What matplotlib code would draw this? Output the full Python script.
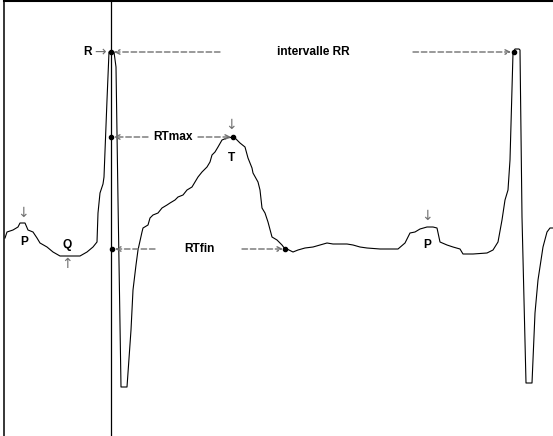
import numpy as np
import matplotlib.pyplot as plt

# ECG trace in pixel units (x right, y down)
ecg_x = [5, 7, 13, 18, 20, 25, 28, 33, 37, 40, 47, 53, 60, 80, 87, 93, 97, 98, 100, 103,
         104, 107, 109, 114, 116, 118, 121, 127, 131, 133, 136, 138, 142, 143, 148, 150,
         153, 158, 162, 167, 170, 175, 178, 183, 187, 192, 195, 198, 202, 207, 210, 212,
         215, 218, 222, 227, 233, 235, 240, 245, 248, 252, 253, 258, 260, 262, 265, 268,
         272, 277, 282, 285, 287, 293, 298, 305, 313, 320, 327, 333, 340, 347, 353, 360,
         367, 380, 398, 405, 410, 415, 420, 427, 433, 437, 440, 447, 453, 460, 463, 473,
         487, 493, 498, 502, 505, 508, 510, 513, 515, 519, 520, 522, 526, 532, 535, 538,
         543, 547, 550, 553]
ecg_y = [238, 232, 230, 227, 223, 223, 230, 232, 238, 243, 247, 252, 256, 256, 252, 247,
         242, 213, 193, 184, 177, 100, 52, 52, 67, 200, 387, 387, 330, 290, 265, 250, 232,
         228, 225, 218, 215, 213, 208, 205, 203, 200, 197, 195, 190, 187, 182, 177, 172,
         167, 162, 155, 152, 147, 140, 138, 137, 138, 143, 147, 158, 168, 173, 182, 190,
         208, 213, 222, 237, 240, 245, 249, 249, 252, 250, 248, 247, 245, 243, 244, 244,
         244, 245, 247, 248, 249, 249, 243, 233, 232, 229, 227, 227, 228, 242, 245, 247,
         249, 254, 254, 253, 250, 242, 220, 200, 190, 160, 53, 49, 49, 50, 217, 383, 383,
         313, 280, 247, 232, 228, 228]

# marked points: R1, R2, RTmax start/end, RTfin start/end
mark_x = [111, 514, 111, 233, 112, 285]
mark_y = [52, 52, 137, 137, 249, 249]

W, H = 553, 436
fig = plt.figure(figsize=(W / 100, H / 100), dpi=100)
ax = fig.add_axes([0, 0, 1, 1])
ax.set_xlim(0, W)
ax.set_ylim(H, 0)
ax.axis('off')

# frame and R line
ax.plot([4, W], [1, 1], color='black', lw=1.5)
ax.plot([4, 4], [0, H], color='black', lw=1.1)
ax.plot([111, 111], [0, H], color='black', lw=0.9)

ax.plot(ecg_x, ecg_y, color='black', lw=0.8)
ax.plot(mark_x, mark_y, 'o', color='black', ms=3)

grey = '#707070'
lab = dict(fontsize=8.6, fontweight='bold', family='Liberation Sans',
           ha='center', va='center', color='black')
arr = dict(fontsize=10, family='DejaVu Sans', ha='center', va='center', color=grey)


def dash_arrow(x0, x1, y):
    # dashed grey arrow from x0 to x1
    ax.annotate('', xy=(x1, y), xytext=(x0, y),
                arrowprops=dict(arrowstyle='->', color=grey, lw=1.0,
                                linestyle=(0, (4, 2)), shrinkA=0, shrinkB=0,
                                mutation_scale=8))


# intervalle RR
ax.text(87, 52, 'R', **lab)
ax.text(100, 52, '→', **arr)
dash_arrow(220, 114, 52)
ax.text(313, 52, 'intervalle RR', **lab)
dash_arrow(413, 511, 52)

# RTmax
dash_arrow(148, 114, 137)
ax.text(173, 137, 'RTmax', **lab)
dash_arrow(198, 231, 137)
ax.text(231, 125, '↓', **arr)
ax.text(231, 158, 'T', **lab)

# RTfin
dash_arrow(155, 115, 249)
ax.text(199, 249, 'RTfin', **lab)
dash_arrow(242, 283, 249)

# P and Q waves
ax.text(23, 213, '↓', **arr)
ax.text(24, 242, 'P', **lab)
ax.text(67, 245, 'Q', **lab)
ax.text(67, 264, '↑', **arr)
ax.text(427, 216, '↓', **arr)
ax.text(427, 245, 'P', **lab)

fig.savefig('out.png', dpi=100)
